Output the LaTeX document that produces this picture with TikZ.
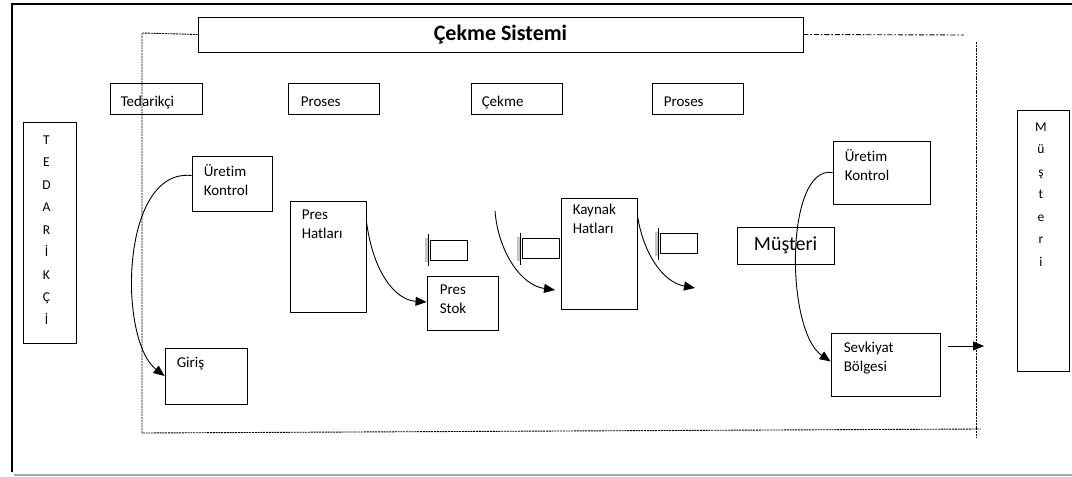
\documentclass[tikz,border=0pt]{standalone}
\usepackage{fontspec}
\setmainfont{Carlito}[Ligatures=NoCommon]
\usetikzlibrary{arrows.meta,calc}
\begin{document}
\begin{tikzpicture}[x=1pt,y=-1pt,
  box/.style={draw=black,line width=0.9pt,inner sep=0pt},
  txt/.style={anchor=north west,inner sep=0pt,align=left,font=\fontsize{15}{19}\selectfont},
  head/.style={anchor=base west,inner sep=0pt,font=\fontsize{15}{16}\selectfont},
  arr/.style={line width=0.9pt,-{Triangle[length=11pt,width=9pt]}},
  frame/.style={line width=0.9pt,dash pattern=on 2pt off 0.8pt},
  card/.style={draw=black,line width=0.9pt,minimum width=37pt,minimum height=20pt,inner sep=0pt},
  vlet/.style={font=\fontsize{13.5}{22.5}\selectfont,align=center,inner sep=0pt,anchor=north}]
\useasboundingbox (0,0) rectangle (1072,477);

% canvas border
\draw[line width=1.4pt] (12,472) -- (12,4) -- (1072,4);
\draw[gray!70,line width=1.2pt] (14,475) -- (1072,475);

% title box
\node[box,minimum width=605pt,minimum height=35pt,font=\bfseries\fontsize{22}{24}\selectfont] (title) at (500.5,34.5) {Çekme Sistemi};

% pull-system boundary
\coordinate (fl1) at (142,33);
\coordinate (fl2) at (142,433);
\coordinate (fl3) at (981,429);
\coordinate (fr1) at (964,35);
\coordinate (fr2) at (976,42);
\coordinate (fr3) at (976,437);
\draw[frame] (title.west) -- (fl1) -- (fl2) -- (fl3);
\draw[line width=0.9pt,dash pattern=on 5pt off 2pt on 1.5pt off 2pt] (title.east) -- (fr1);
\draw[frame] (fr2) -- (fr3);

% header boxes
\node[box,minimum width=92pt,minimum height=31pt] (h1) at (156,98.5) {};
\node[head] at ($(h1.west)+(11,7.5)$) {Tedarikçi};
\node[box,minimum width=91pt,minimum height=31pt] (h2) at (333.5,98.5) {};
\node[head] at ($(h2.west)+(13,7.5)$) {Proses};
\node[box,minimum width=91pt,minimum height=31pt] (h3) at (516.5,98.5) {};
\node[head] at ($(h3.west)+(11,7.5)$) {Çekme};
\node[box,minimum width=91pt,minimum height=31pt] (h4) at (697.5,98.5) {};
\node[head] at ($(h4.west)+(12,7.5)$) {Proses};

% supplier column
\node[box,minimum width=53pt,minimum height=221pt] (sup) at (49.5,232.5) {};
\node[vlet] at ($(sup.north)+(-3,14)$) {T\\E\\D\\A\\R\\İ\\K\\Ç\\İ};

% customer column
\node[box,minimum width=52pt,minimum height=261pt] (cus) at (1043,240.5) {};
\node[vlet] at ($(cus.north)+(-2,13)$) {M\\ü\\ş\\t\\e\\r\\i};

% process boxes
\node[box,minimum width=80pt,minimum height=55pt] (uk1) at (232,183.5) {};
\node[txt] at ($(uk1.north west)+(12,9)$) {Üretim\\Kontrol};
\node[box,minimum width=82pt,minimum height=56pt] (gir) at (206,376) {};
\node[txt] at ($(gir.north west)+(12,9)$) {Giriş};
\node[box,minimum width=76pt,minimum height=111pt] (pres) at (328,256.5) {};
\node[txt] at ($(pres.north west)+(12,9)$) {Pres\\Hatları};
\node[box,minimum width=71pt,minimum height=54pt] (stok) at (462.5,303) {};
\node[txt] at ($(stok.north west)+(13,9)$) {Pres\\Stok};
\node[box,minimum width=76pt,minimum height=111pt] (kay) at (599,253.5) {};
\node[txt] at ($(kay.north west)+(12,6)$) {Kaynak\\Hatları};
\node[box,minimum width=97pt,minimum height=63pt] (uk2) at (881.5,172.5) {};
\node[txt] at ($(uk2.north west)+(12,9)$) {Üretim\\Kontrol};
\node[box,minimum width=109pt,minimum height=63pt] (sev) at (885.5,364.5) {};
\node[txt] at ($(sev.north west)+(13,9)$) {Sevkiyat\\Bölgesi};
\node[box,minimum width=97pt,minimum height=37pt,font=\fontsize{20}{24}\selectfont] (mus) at (785.5,245.5) {Müşteri};

% kanban cards with holders
\node[card] (k1) at (448.5,250) {};
\node[card] (k2) at (541,248.5) {};
\node[card] (k3) at (679,243.5) {};
\foreach \k in {k1,k2,k3}{
  \fill[gray!45] ($(\k.west)+(-5,-12)$) rectangle ($(\k.west)+(-1.5,12)$);
  \draw[line width=0.7pt] ($(\k.west)+(-1.5,-16)$) -- ($(\k.west)+(-1.5,16)$);
}

% material and information flows
\draw[arr] ($(uk1.west)+(0,-8)$) .. controls (120,168) and (118,340) .. (gir.west);
\draw[arr] ($(pres.east)+(0,-35)$) .. controls (373,272) and (395,300) .. ($(stok.west)+(0,-1)$);
\coordinate (m1) at (495,211);
\coordinate (m2) at (555,290);
\draw[arr] (m1) .. controls (498,250) and (520,285) .. (m2);
\coordinate (m3) at (695,288);
\draw[arr] ($(kay.east)+(0,-38)$) .. controls (643,252) and (662,282) .. (m3);
\draw[arr] ($(uk2.west)+(0,0)$) .. controls (785,165) and (785,330) .. ($(sev.west)+(0,-3)$);
\coordinate (s1) at (948,346);
\coordinate (s2) at (984,346);
\draw[arr] (s1) -- (s2);
\end{tikzpicture}
\end{document}
